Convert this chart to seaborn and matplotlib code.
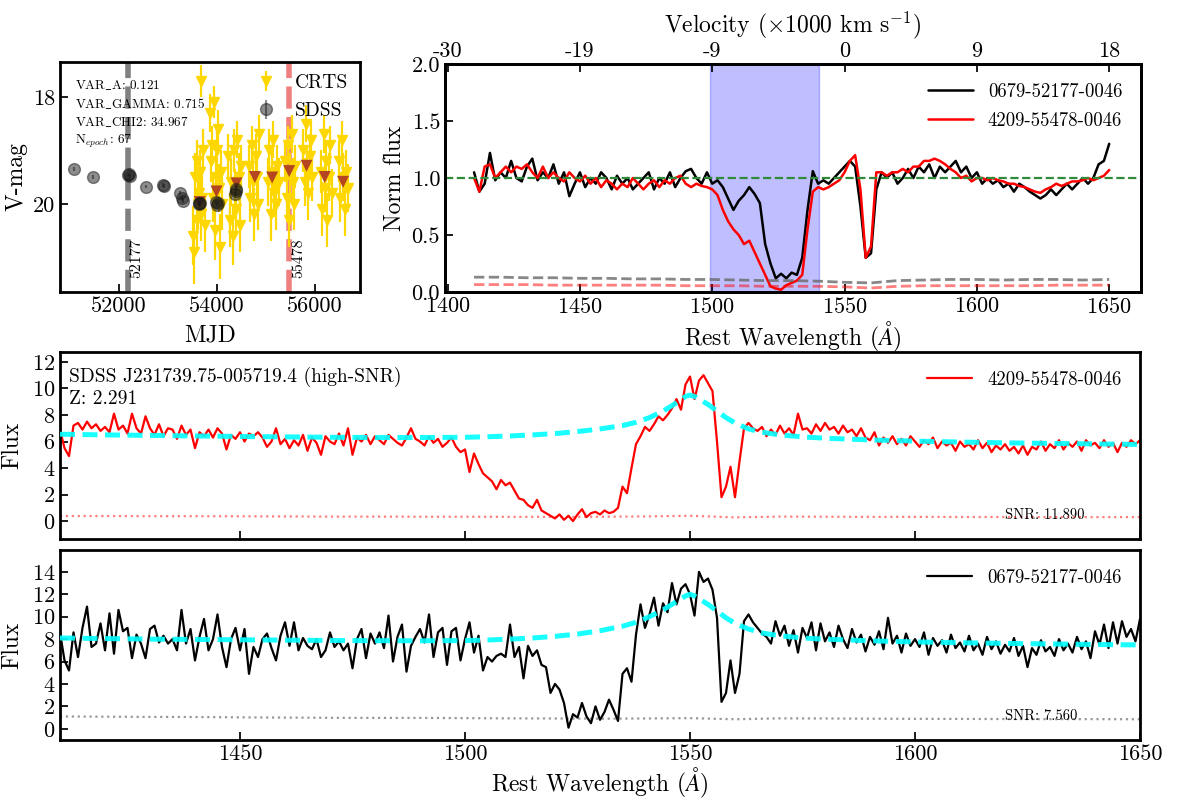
import numpy as np
import matplotlib
matplotlib.use("Agg")
import matplotlib.pyplot as plt
import seaborn as sns

# ------------------------------------------------------------------ data
wave_start = 1410          # first pixel of the flux arrays (1 A sampling)
flux_4209 = [
    6.9, 5.5, 4.9, 7.2, 7.4, 6.9, 7.5, 7.0, 7.3, 6.8,
    7.1, 6.7, 8.1, 6.9, 7.2, 6.6, 8.1, 7.0, 6.6, 7.9,
    7.0, 6.5, 7.3, 6.4, 7.0, 6.9, 6.2, 7.2, 6.5, 6.9,
    5.5, 6.7, 6.4, 6.9, 6.3, 7.0, 6.6, 5.4, 6.5, 6.2,
    6.7, 6.0, 6.6, 6.4, 6.7, 6.3, 5.6, 6.0, 7.0, 5.8,
    6.2, 5.5, 6.1, 5.7, 6.5, 5.3, 6.3, 5.9, 5.0, 6.4,
    6.0, 5.8, 6.6, 5.7, 7.0, 5.0, 6.3, 6.0, 6.5, 5.8,
    6.4, 6.1, 5.8, 6.5, 6.2, 5.9, 5.7, 6.3, 7.0, 6.2,
    6.0, 5.7, 6.4, 5.9, 6.2, 5.6, 5.9, 6.3, 5.6, 5.2,
    5.4, 3.7, 5.1, 4.3, 3.6, 3.3, 3.0, 2.4, 3.1, 2.7,
    2.9, 2.3, 1.7, 1.6, 1.2, 1.0, 1.6, 0.8, 0.6, 0.4,
    0.2, 0.5, 0.1, 0.4, 0.0, 0.5, 0.9, 0.3, 0.6, 0.7,
    0.5, 0.8, 0.6, 0.7, 1.0, 2.6, 2.1, 4.0, 5.8, 6.4,
    7.1, 6.8, 7.3, 7.9, 7.6, 8.0, 8.5, 9.2, 8.4, 10.3,
    10.9, 9.2, 10.6, 11.0, 10.4, 9.8, 6.0, 1.8, 2.6, 4.1,
    1.8, 4.5, 7.0, 7.4, 7.0, 6.8, 7.1, 6.4, 6.9, 6.5,
    7.2, 6.6, 7.0, 6.5, 8.1, 6.9, 7.0, 6.6, 7.3, 6.8,
    7.4, 6.9, 7.1, 6.6, 7.2, 6.7, 6.9, 6.4, 7.0, 6.3,
    6.1, 6.7, 5.7, 6.3, 5.9, 6.4, 5.8, 6.2, 5.7, 6.4,
    6.0, 5.6, 6.1, 5.8, 6.3, 5.5, 6.0, 5.7, 5.9, 5.3,
    6.0, 5.6, 5.8, 5.4, 6.1, 5.5, 5.9, 5.2, 5.7, 5.4,
    5.8, 5.3, 5.6, 5.1, 5.7, 5.0, 5.6, 5.4, 6.0, 5.3,
    5.8, 5.5, 6.1, 5.4, 5.9, 5.6, 6.0, 5.3, 6.1, 5.7,
    5.9, 5.5, 6.1, 5.6, 5.9, 5.2, 5.9, 5.6, 6.1, 5.8,
    6.1,
]
flux_0679 = [
    8.6, 6.1, 5.2, 8.6, 6.4, 9.0, 10.9, 7.3, 7.6, 9.4,
    7.0, 10.3, 6.7, 10.6, 8.7, 9.0, 6.3, 8.4, 7.6, 6.3,
    8.9, 9.2, 7.7, 8.3, 7.6, 8.0, 7.0, 10.6, 7.6, 8.9,
    6.1, 8.2, 9.8, 7.0, 8.0, 10.2, 7.3, 5.5, 8.0, 9.0,
    7.0, 8.9, 4.9, 7.3, 6.4, 8.0, 8.5, 7.2, 6.1, 8.3,
    9.5, 7.4, 9.5, 7.0, 8.1, 7.4, 7.1, 8.0, 6.4, 7.0,
    8.6, 7.3, 7.8, 7.0, 7.6, 5.4, 8.0, 8.9, 6.3, 8.5,
    7.6, 8.6, 7.2, 10.1, 6.0, 8.2, 9.3, 5.1, 7.4, 8.2,
    8.9, 7.7, 10.2, 6.4, 8.6, 9.0, 5.7, 8.7, 9.0, 6.1,
    8.0, 9.5, 6.8, 8.3, 5.2, 6.4, 6.0, 6.5, 6.7, 6.4,
    9.3, 6.4, 7.3, 4.5, 7.4, 6.5, 7.0, 5.7, 5.5, 3.2,
    4.0, 3.5, 2.3, 0.1, 1.3, 1.0, 2.3, 1.1, 0.5, 2.0,
    0.8, 1.5, 2.6, 1.7, 0.7, 4.9, 5.4, 4.2, 8.4, 11.1,
    9.0, 10.2, 11.7, 9.2, 11.2, 10.4, 13.0, 11.1, 12.5, 12.9,
    12.0, 10.1, 14.0, 13.1, 13.4, 12.4, 9.9, 2.4, 3.2, 6.1,
    3.2, 4.9, 9.6, 10.2, 9.5, 9.0, 8.5, 8.2, 7.6, 9.6,
    8.3, 9.2, 7.4, 8.8, 6.8, 9.0, 8.1, 9.5, 7.0, 9.4,
    7.8, 8.6, 7.3, 9.2, 8.0, 7.2, 8.9, 7.7, 8.4, 6.9,
    8.2, 7.5, 8.7, 7.1, 9.9, 7.6, 8.3, 6.8, 8.5, 7.4,
    8.0, 7.3, 8.6, 6.6, 8.1, 7.4, 7.9, 6.8, 8.4, 7.2,
    7.7, 6.9, 8.3, 7.0, 7.6, 6.6, 8.2, 7.1, 7.8, 6.7,
    7.5, 6.9, 8.1, 6.5, 7.4, 5.5, 7.2, 6.6, 7.9, 6.9,
    7.3, 6.5, 8.0, 7.0, 7.6, 6.8, 8.2, 7.1, 7.8, 6.3,
    8.7, 7.5, 9.3, 7.2, 9.5, 7.6, 9.6, 8.2, 8.9, 7.8,
    9.8,
]

cont_wave = [1410, 1420, 1430, 1440, 1450, 1460, 1470, 1480, 1490, 1500,
             1505, 1510, 1515, 1520, 1525, 1530, 1535, 1538, 1541, 1544,
             1546, 1548, 1549, 1550, 1551, 1552, 1554, 1556, 1558, 1560,
             1563, 1566, 1570, 1575, 1580, 1590, 1600, 1610, 1620, 1630,
             1640, 1650]
cont_4209 = [6.55, 6.50, 6.46, 6.42, 6.38, 6.35, 6.32, 6.30, 6.30, 6.32,
             6.36, 6.42, 6.50, 6.60, 6.75, 6.95, 7.20, 7.45, 7.80, 8.30,
             8.70, 9.15, 9.40, 9.50, 9.40, 9.20, 8.80, 8.30, 7.80, 7.40,
             6.95, 6.70, 6.50, 6.35, 6.25, 6.12, 6.03, 5.96, 5.90, 5.86,
             5.82, 5.78]
cont_0679 = [8.10, 8.05, 8.00, 7.97, 7.94, 7.91, 7.88, 7.86, 7.85, 7.87,
             7.92, 8.00, 8.10, 8.25, 8.45, 8.75, 9.15, 9.50, 10.00, 10.60,
             11.10, 11.60, 11.85, 12.00, 11.85, 11.60, 11.10, 10.50, 9.90, 9.40,
             8.90, 8.55, 8.30, 8.10, 8.00, 7.85, 7.75, 7.68, 7.62, 7.57,
             7.52, 7.48]

err_wave = [1410, 1420, 1430, 1440, 1450, 1460, 1470, 1480, 1490, 1500,
            1510, 1520, 1530, 1540, 1550, 1560, 1570, 1580, 1590, 1600,
            1610, 1620, 1630, 1640, 1650]
err_4209 = [0.38, 0.38, 0.37, 0.37, 0.36, 0.35, 0.34, 0.34, 0.33, 0.33,
            0.32, 0.32, 0.33, 0.35, 0.40, 0.28, 0.34, 0.33, 0.32, 0.32,
            0.31, 0.31, 0.30, 0.30, 0.30]
err_0679 = [1.10, 1.08, 1.06, 1.05, 1.02, 1.00, 0.98, 0.97, 0.97, 0.95,
            0.93, 0.92, 0.90, 0.92, 0.95, 0.85, 0.93, 0.92, 0.90, 0.89,
            0.88, 0.87, 0.86, 0.86, 0.85]
normerr_4209 = [0.065, 0.065, 0.065, 0.060, 0.060, 0.060, 0.060, 0.060, 0.055, 0.055,
                0.055, 0.050, 0.050, 0.050, 0.045, 0.035, 0.050, 0.055, 0.055, 0.055,
                0.055, 0.055, 0.060, 0.060, 0.060]
normerr_0679 = [0.130, 0.130, 0.125, 0.125, 0.120, 0.120, 0.115, 0.115, 0.110, 0.110,
                0.105, 0.100, 0.100, 0.095, 0.085, 0.080, 0.100, 0.105, 0.110, 0.110,
                0.105, 0.110, 0.110, 0.105, 0.110]

norm_start = 1410          # normalised spectra, 2 A sampling
norm_0679 = [
    1.05, 0.88, 0.95, 1.22, 0.98, 1.05, 1.00, 1.15, 1.00, 0.97,
    1.10, 1.17, 0.98, 1.05, 1.00, 1.12, 0.95, 1.05, 0.84, 0.95,
    1.05, 0.92, 1.00, 0.95, 1.05, 1.00, 0.90, 1.02, 0.95, 1.00,
    0.90, 0.95, 1.00, 1.05, 0.90, 1.00, 0.95, 1.05, 0.92, 1.00,
    1.06, 1.08, 1.00, 0.95, 1.05, 0.95, 0.98, 0.92, 0.82, 0.72,
    0.80, 0.85, 0.92, 0.86, 0.78, 0.42, 0.25, 0.12, 0.16, 0.12,
    0.17, 0.15, 0.30, 0.72, 1.06, 0.95, 0.98, 0.95, 1.00, 1.05,
    1.10, 1.15, 1.10, 0.75, 0.30, 0.34, 0.90, 1.05, 1.00, 1.05,
    0.95, 1.00, 1.08, 1.00, 1.10, 1.05, 1.12, 1.00, 1.10, 1.05,
    1.10, 1.15, 1.05, 1.10, 1.00, 1.05, 0.95, 1.00, 0.95, 0.98,
    0.92, 0.95, 0.88, 0.95, 0.92, 0.88, 0.85, 0.82, 0.85, 0.90,
    0.85, 0.90, 0.95, 0.90, 0.95, 1.00, 0.95, 1.00, 1.12, 1.15,
    1.30,
]
norm_4209 = [
    1.00, 0.88, 1.10, 1.12, 1.00, 1.05, 1.10, 1.05, 1.10, 1.08,
    1.12, 1.05, 1.00, 1.10, 1.00, 1.05, 1.00, 0.97, 1.05, 1.00,
    0.97, 1.02, 0.95, 1.00, 0.92, 0.98, 0.95, 0.90, 0.95, 0.92,
    1.00, 0.95, 0.90, 0.95, 0.98, 0.92, 0.98, 0.95, 1.00, 1.02,
    0.95, 0.92, 0.95, 0.93, 0.92, 0.90, 0.85, 0.72, 0.62, 0.55,
    0.50, 0.42, 0.45, 0.35, 0.25, 0.15, 0.05, 0.03, 0.02, 0.06,
    0.08, 0.10, 0.15, 0.55, 0.88, 0.92, 0.90, 0.92, 0.95, 0.98,
    1.05, 1.15, 1.20, 0.90, 0.30, 0.40, 1.05, 1.05, 1.02, 1.05,
    1.05, 1.08, 1.05, 1.10, 1.10, 1.15, 1.15, 1.17, 1.15, 1.12,
    1.08, 1.05, 1.00, 1.02, 0.97, 1.00, 1.00, 0.98, 1.00, 0.98,
    0.97, 0.95, 0.95, 0.93, 0.92, 0.90, 0.88, 0.87, 0.90, 0.92,
    0.95, 0.93, 0.95, 0.97, 0.97, 0.98, 1.00, 0.98, 1.00, 1.02,
    1.07,
]

bal_window = [1499.0, 1540.5]
vel_tick_wave = [1400, 1450, 1500, 1550, 1600, 1650]
vel_tick_labels = ["-30", "-19", "-9", "0", "9", "18"]

# light curve
sdss_mjd = [51081, 51464, 52178, 52199, 52224, 52557, 52908, 52931, 53243, 53286,
            53299, 53626, 53640, 53665, 53975, 54008, 54018, 54380, 54390, 54396]
sdss_mag = [19.35, 19.50, 19.47, 19.45, 19.48, 19.68, 19.65, 19.67, 19.80, 19.90,
            19.94, 19.98, 20.01, 19.99, 19.97, 20.03, 19.98, 19.82, 19.77, 19.73]
sdss_err = [0.03, 0.03, 0.03, 0.03, 0.03, 0.03, 0.03, 0.03, 0.04, 0.04,
            0.04, 0.04, 0.04, 0.04, 0.04, 0.04, 0.04, 0.04, 0.04, 0.04]
crts_mjd = [53515, 53538, 53560, 53585, 53600, 53622, 53640, 53655, 53672, 53686, 53700, 53725, 53750,
            53870, 53890, 53905, 53925, 53938, 53965, 53985, 54000, 54022, 54040, 54060, 54085, 54110,
            54230, 54260, 54290, 54320, 54345, 54370, 54395, 54420, 54445, 54470, 54500,
            54650, 54680, 54710, 54740, 54765, 54790, 54815, 54840, 54865,
            55040, 55070, 55100, 55125, 55150, 55175, 55200, 55230, 55260,
            55400, 55425, 55450, 55475, 55500, 55525, 55550, 55575, 55600,
            55760, 55790, 55815, 55840, 55865, 55890, 55915, 55940,
            56120, 56150, 56180, 56205, 56230, 56255, 56280, 56310, 56340,
            56490, 56520, 56550, 56580, 56610, 56640, 56670]
crts_mag = [20.6, 20.9, 19.5, 20.3, 19.2, 20.0, 19.8, 19.4, 20.2, 17.7, 19.9, 19.0, 20.4,
            18.3, 19.2, 18.9, 19.9, 18.1, 20.5, 19.5, 19.0, 18.6, 19.7, 20.8, 19.4, 20.0,
            19.1, 20.3, 19.6, 20.6, 19.0, 19.8, 20.1, 18.8, 19.5, 20.4, 19.3,
            19.3, 19.9, 18.9, 19.6, 20.2, 19.1, 19.5, 20.0, 18.7,
            19.6, 19.0, 20.2, 19.4, 18.8, 19.8, 20.0, 19.3, 19.6,
            19.2, 19.9, 18.9, 20.3, 19.5, 18.7, 19.6, 20.0, 19.3,
            19.0, 19.6, 18.5, 19.3, 19.8, 19.1, 18.8, 19.5,
            19.4, 20.1, 18.7, 19.7, 19.2, 20.3, 19.5, 18.9, 19.8,
            19.2, 19.9, 18.8, 19.5, 20.1, 19.4, 19.7]
crts_err = [0.55, 0.60, 0.45, 0.50, 0.40, 0.50, 0.45, 0.40, 0.50, 0.30, 0.45, 0.40, 0.50,
            0.35, 0.40, 0.35, 0.45, 0.30, 0.55, 0.45, 0.40, 0.35, 0.45, 0.60, 0.40, 0.50,
            0.40, 0.50, 0.45, 0.55, 0.40, 0.45, 0.50, 0.35, 0.45, 0.50, 0.40,
            0.40, 0.45, 0.35, 0.45, 0.50, 0.40, 0.45, 0.50, 0.35,
            0.45, 0.40, 0.50, 0.45, 0.35, 0.45, 0.50, 0.40, 0.45,
            0.40, 0.45, 0.35, 0.50, 0.45, 0.35, 0.45, 0.50, 0.40,
            0.40, 0.45, 0.35, 0.40, 0.50, 0.40, 0.35, 0.45,
            0.40, 0.50, 0.35, 0.45, 0.40, 0.50, 0.45, 0.35, 0.45,
            0.40, 0.45, 0.35, 0.45, 0.50, 0.40, 0.45]
mean_mjd = [53650, 53992, 54400, 54775, 55128, 55475, 55830, 56200, 56575]
mean_mag = [19.97, 19.77, 19.62, 19.50, 19.51, 19.39, 19.29, 19.50, 19.59]
spec_mjds = [52177, 55478]
spec_names = ["0679-52177-0046", "4209-55478-0046"]
var_text = [r"VAR$\_$A: 0.121", r"VAR$\_$GAMMA: 0.715", r"VAR$\_$CHI2: 34.967",
            r"N$_{epoch}$: 67"]
obj_name = "SDSS J231739.75-005719.4 (high-SNR)"
redshift = 2.291
snr = [7.560, 11.890]

# ------------------------------------------------------------------ style
sns.set_theme(style="ticks")
plt.rcParams.update({
    "font.family": ["cmr10", "DejaVu Serif"],
    "mathtext.fontset": "cm",
    "axes.unicode_minus": False,
    "axes.formatter.use_mathtext": True,
    "axes.linewidth": 2.0,
    "axes.edgecolor": "black",
    "xtick.direction": "in",
    "ytick.direction": "in",
    "xtick.major.size": 6,
    "ytick.major.size": 6,
    "xtick.color": "black",
    "ytick.color": "black",
    "text.color": "black",
    "axes.labelcolor": "black",
})

wave = wave_start + np.arange(len(flux_4209))
wave_b = wave_start + np.arange(len(flux_0679))
nw_r = norm_start + 2 * np.arange(len(norm_4209))
nw_b = norm_start + 2 * np.arange(len(norm_0679))

fig = plt.figure(figsize=(12, 8), dpi=100)
ax_lc = fig.add_axes([0.05, 0.635, 0.25, 0.2875])
ax_n = fig.add_axes([0.3708, 0.635, 0.5800, 0.285])
ax_m = fig.add_axes([0.05, 0.32625, 0.90, 0.23375])
ax_b = fig.add_axes([0.05, 0.075, 0.90, 0.2375])

TICK = 16
LAB = 17

# ---------------- light curve
ax_lc.axvline(spec_mjds[0], color="gray", ls=(0, (4, 1.5)), lw=4, zorder=1)
ax_lc.axvline(spec_mjds[1], color="#f08080", ls=(0, (4, 1.5)), lw=4, zorder=1)
ax_lc.errorbar(crts_mjd, crts_mag, yerr=crts_err, fmt="v", color="gold", ms=7,
               elinewidth=1.6, capsize=0, label="CRTS", zorder=2)
sns.scatterplot(x=mean_mjd, y=mean_mag, marker="v", color="#b4471f", s=75,
                edgecolor="none", ax=ax_lc, zorder=3, legend=False)
ax_lc.errorbar(sdss_mjd, sdss_mag, yerr=sdss_err, fmt="o", color="k", alpha=0.5,
               ms=8.5, elinewidth=1.5, capsize=0, label="SDSS", zorder=4)
ax_lc.set_xlim(50800, 56920)
ax_lc.set_ylim(21.65, 17.35)
ax_lc.set_xticks([52000, 54000, 56000])
ax_lc.set_xticklabels(["52000", "54000", "56000"])
ax_lc.set_yticks([18, 20])
ax_lc.set_yticklabels(["18", "20"])
ax_lc.tick_params(labelsize=TICK)
ax_lc.set_xlabel("MJD", fontsize=LAB, labelpad=6)
ax_lc.set_ylabel("V-mag", fontsize=LAB, labelpad=4)
for m in spec_mjds:
    ax_lc.text(m + 45, 21.38, str(m), rotation=90, fontsize=11.5, ha="left", va="bottom")
ax_lc.text(0.05, 0.93, "\n".join(var_text), transform=ax_lc.transAxes, fontsize=9.5,
           va="top", ha="left", linespacing=1.35)
ax_lc.legend(loc="upper right", frameon=False, fontsize=14, labelspacing=0.55,
             borderaxespad=0.2, handletextpad=0.5)

# ---------------- normalised spectra
ax_n.axvspan(bal_window[0], bal_window[1], color="blue", alpha=0.25, lw=1, zorder=0)
sns.lineplot(x=nw_b, y=norm_0679, color="black", lw=1.8, ax=ax_n, estimator=None,
             label=spec_names[0])
sns.lineplot(x=nw_r, y=norm_4209, color="red", lw=1.8, ax=ax_n, estimator=None,
             label=spec_names[1])
ax_n.plot(err_wave, normerr_0679, color="dimgray", ls="--", lw=2, alpha=0.8)
ax_n.plot(err_wave, normerr_4209, color="red", ls="--", lw=2, alpha=0.5)
ax_n.axhline(1.0, color="#2f8a3a", ls="--", lw=1.6, zorder=5)
ax_n.set_xlim(1399, 1662)
ax_n.set_ylim(0, 2.0)
ax_n.set_xticks(vel_tick_wave)
ax_n.set_yticks([0, 0.5, 1.0, 1.5, 2.0])
ax_n.set_yticklabels(["0.0", "0.5", "1.0", "1.5", "2.0"])
ax_n.tick_params(labelsize=TICK)
ax_n.set_xlabel(r"Rest Wavelength ($\AA$)", fontsize=LAB, labelpad=2)
ax_n.set_ylabel("Norm flux", fontsize=LAB, labelpad=4)
ax_n.legend(loc="upper right", frameon=False, fontsize=13.5, handlelength=2.4,
            labelspacing=0.6, borderaxespad=0.6)
ax_t = ax_n.twiny()
ax_t.set_xlim(ax_n.get_xlim())
ax_t.set_xticks(vel_tick_wave)
ax_t.set_xticklabels(vel_tick_labels)
ax_t.tick_params(labelsize=TICK, direction="in", pad=2)
ax_t.set_xlabel(r"Velocity ($\times$1000 km s$^{-1}$)", fontsize=LAB, labelpad=7)
for sp in ax_t.spines.values():
    sp.set_linewidth(2)

# ---------------- flux panels
def flux_panel(ax, w, flux, cont, err, color, errcolor, erralpha, name, snr_val, snr_y):
    sns.lineplot(x=w, y=flux, color=color, lw=1.6, ax=ax, estimator=None, label=name)
    ax.plot(cont_wave, cont, color="cyan", lw=3.6, ls=(0, (3, 1.5)), alpha=0.9, zorder=4)
    ax.plot(err_wave, err, color=errcolor, ls=":", lw=1.6, alpha=erralpha, zorder=1)
    ax.set_xlim(1410, 1650)
    ax.set_xticks([1450, 1500, 1550, 1600, 1650])
    ax.tick_params(labelsize=TICK)
    ax.set_ylabel("Flux", fontsize=LAB, labelpad=6)
    ax.text(1620, snr_y, "SNR: %.3f" % snr_val, fontsize=10.5, ha="left", va="center")
    ax.legend(loc="upper right", frameon=False, fontsize=13.5, handlelength=2.4,
              borderaxespad=0.6)

flux_panel(ax_m, wave, flux_4209, cont_4209, err_4209, "red", "red", 0.5,
           spec_names[1], snr[1], 0.45)
ax_m.set_ylim(-1.35, 12.75)
ax_m.set_yticks([0, 2, 4, 6, 8, 10, 12])
ax_m.set_xticklabels([])
ax_m.set_xlabel("")
ax_m.text(0.008, 0.92, "%s\nZ: %.3f" % (obj_name, redshift), transform=ax_m.transAxes,
          fontsize=14, ha="left", va="top", linespacing=1.25)

flux_panel(ax_b, wave_b, flux_0679, cont_0679, err_0679, "black", "gray", 0.8,
           spec_names[0], snr[0], 1.1)
ax_b.set_ylim(-1.0, 15.95)
ax_b.set_yticks([0, 2, 4, 6, 8, 10, 12, 14])
ax_b.set_xticklabels(["1450", "1500", "1550", "1600", "1650"])
ax_b.set_xlabel(r"Rest Wavelength ($\AA$)", fontsize=LAB, labelpad=1)

fig.savefig("out.png", dpi=100)
